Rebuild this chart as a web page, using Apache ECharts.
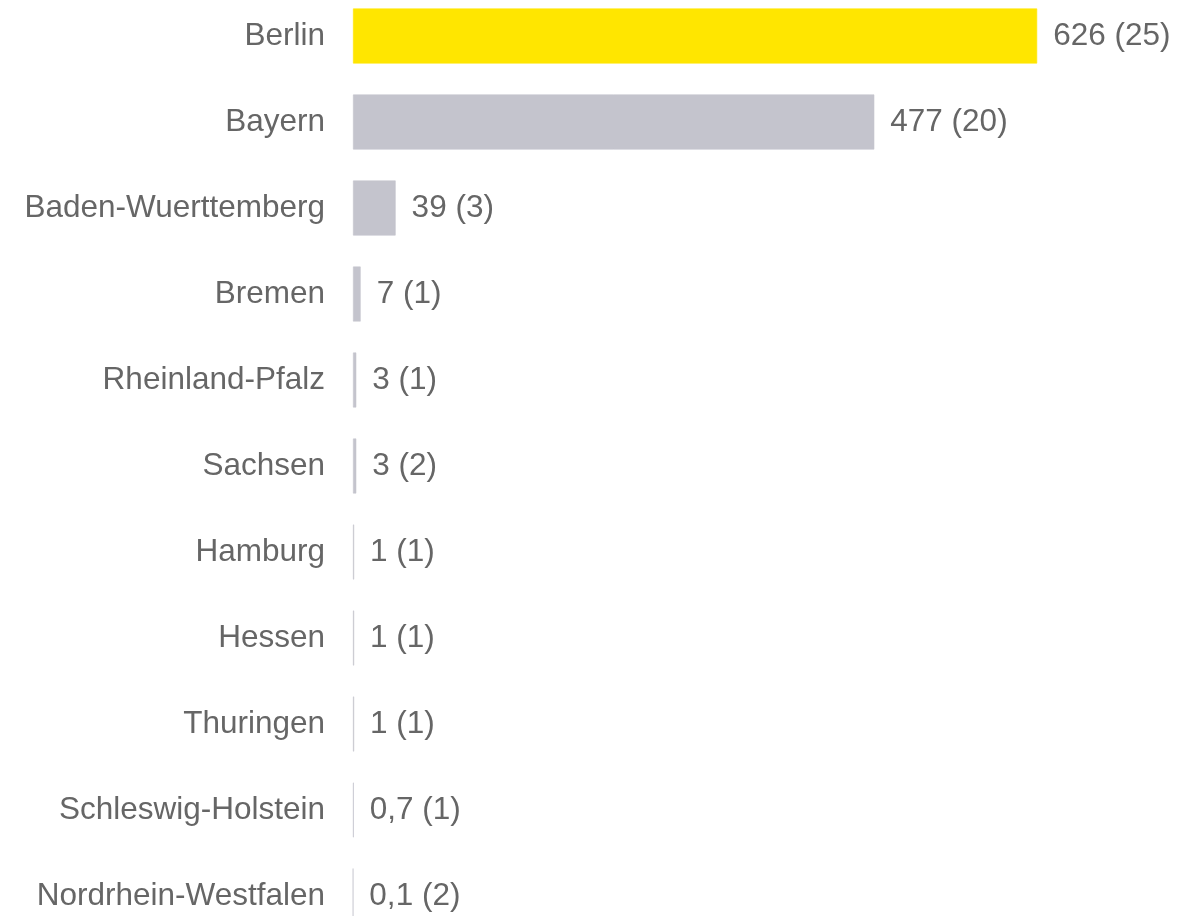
<!DOCTYPE html>
<html>
<head>
<meta charset="utf-8">
<script src="https://cdn.jsdelivr.net/npm/echarts@6/dist/echarts.min.js"></script>
<style>
  html, body { margin: 0; padding: 0; background: #fff; }
  #chart { width: 1192px; height: 916px; }
</style>
</head>
<body>
<div id="chart"></div>
<script>
// Bundesländer, sortiert nach Wert
const states = [
  'Berlin', 'Bayern', 'Baden-Wuerttemberg', 'Bremen', 'Rheinland-Pfalz',
  'Sachsen', 'Hamburg', 'Hessen', 'Thuringen', 'Schleswig-Holstein',
  'Nordrhein-Westfalen'
];
const values = [626, 477, 39, 7, 3, 3, 1, 1, 1, 0.7, 0.1];
const counts = [25, 20, 3, 1, 1, 2, 1, 1, 1, 1, 2];
const highlight = 'Berlin';

const chart = echarts.init(document.getElementById('chart'));

const fmt = (v) => String(v).replace('.', ',');

chart.setOption({
  animation: false,
  grid: { left: 353, right: 74, top: -7, bottom: -23, outerBoundsMode: 'none' },
  xAxis: {
    type: 'value',
    min: 0,
    max: 700,
    show: false
  },
  yAxis: {
    type: 'category',
    inverse: true,
    data: states,
    axisLine: { show: false },
    axisTick: { show: false },
    axisLabel: {
      margin: 28,
      fontSize: 31.5,
      color: '#666666',
      padding: [5, 0, 0, 0],
      fontFamily: 'Liberation Sans, Arial, sans-serif'
    }
  },
  series: [
    {
      type: 'bar',
      barWidth: 55,
      data: values.map((v, i) => ({
        value: v,
        itemStyle: {
          color: states[i] === highlight ? '#ffe600' : '#c4c4cd',
          borderColor: states[i] === highlight ? '#ffe600' : '#c4c4cd',
          borderWidth: 0.6
        }
      })),
      label: {
        show: true,
        position: 'right',
        distance: 16,
        fontSize: 31.5,
        color: '#666666',
        padding: [4, 0, 0, 0],
        fontFamily: 'Liberation Sans, Arial, sans-serif',
        formatter: (p) => fmt(values[p.dataIndex]) + ' (' + counts[p.dataIndex] + ')'
      }
    }
  ]
});
</script>
</body>
</html>
